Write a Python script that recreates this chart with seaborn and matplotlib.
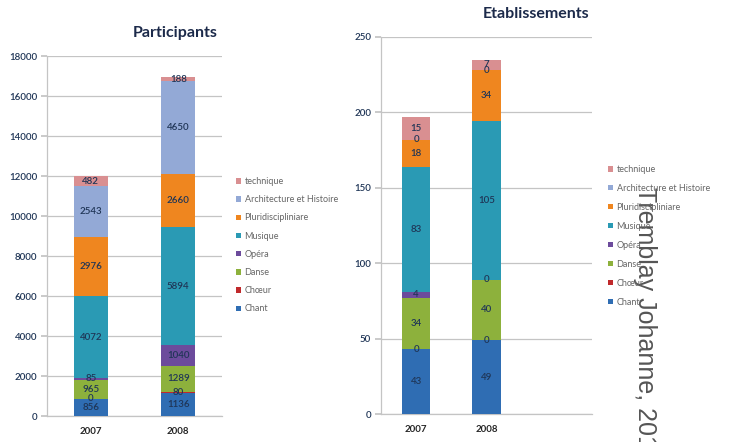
import matplotlib
matplotlib.use("Agg")
import matplotlib.pyplot as plt
from matplotlib.patches import Patch
import seaborn as sns
import numpy as np

sns.set_theme(style="white")
plt.rcParams["font.family"] = ["Lato", "DejaVu Sans"]

years = ["2007", "2008"]
categories = ["Chant", "Chœur", "Danse", "Opéra", "Musique",
              "Pluridisciplinaire", "Architecture et Histoire", "technique"]
legend_labels = ["Chant", "Chœur", "Danse", "Opéra", "Musique",
                 "Pluridisciplinaire", "Architecture et Histoire", "technique"]
legend_labels[5] = "Pluridisciplinare".replace("plinare", "pliniare")

participants = {
    "Chant": [856, 1136],
    "Chœur": [0, 80],
    "Danse": [965, 1289],
    "Opéra": [85, 1040],
    "Musique": [4072, 5894],
    "Pluridisciplinaire": [2976, 2660],
    "Architecture et Histoire": [2543, 4650],
    "technique": [482, 188],
}
etablissements = {
    "Chant": [43, 49],
    "Chœur": [0, 0],
    "Danse": [34, 40],
    "Opéra": [4, 0],
    "Musique": [83, 105],
    "Pluridisciplinaire": [18, 34],
    "Architecture et Histoire": [0, 0],
    "technique": [15, 7],
}
part_ticks = [0, 2000, 4000, 6000, 8000, 10000, 12000, 14000, 16000, 18000]
etab_ticks = [0, 50, 100, 150, 200, 250]

colors = {
    "Chant": "#2f6db3",
    "Chœur": "#c0292b",
    "Danse": "#8db13c",
    "Opéra": "#6c4b9c",
    "Musique": "#2a9ab4",
    "Pluridisciplinaire": "#ef861f",
    "Architecture et Histoire": "#93a9d6",
    "technique": "#d98f91",
}

label_color = "#1f3556"
grid_color = "#c4c4c4"

fig = plt.figure(figsize=(7.29, 4.42), dpi=100)
fig.patch.set_facecolor("white")


def stacked(ax, data, width, nslots, ticks):
    bottom = np.zeros(len(years))
    for cat in categories:
        vals = np.array(data[cat], dtype=float)
        sns.barplot(x=years, y=vals, bottom=bottom, color=colors[cat],
                    width=width, saturation=1, ax=ax, linewidth=0, zorder=3)
        cont = ax.containers[-1]
        ax.bar_label(cont, labels=[f"{int(v)}" for v in vals],
                     label_type="center", fontsize=7, color=label_color,
                     fontweight="semibold", zorder=5)
        bottom += vals
    ax.set_xlim(-0.5, nslots - 0.5)
    ax.set_ylim(ticks[0], ticks[-1])
    ax.set_yticks(ticks)
    ax.set_yticklabels([str(t) for t in ticks], fontsize=7,
                       color=label_color, fontweight="semibold")
    ax.set_xticks(range(len(years)))
    ax.set_xticklabels(years, fontsize=7, color="#262626", fontweight="bold")
    ax.set_xticks(np.arange(-0.5, nslots, 1.0), minor=True)
    ax.tick_params(axis="x", which="major", length=0, pad=8)
    ax.tick_params(axis="x", which="minor", length=4, color=grid_color,
                   direction="out")
    ax.tick_params(axis="y", length=4, color=grid_color, direction="out",
                   left=True, pad=3)
    ax.yaxis.grid(True, color=grid_color, linewidth=0.9, zorder=0)
    ax.set_axisbelow(True)
    for side in ("top", "right"):
        ax.spines[side].set_visible(False)
    for side in ("left", "bottom"):
        ax.spines[side].set_color(grid_color)
        ax.spines[side].set_linewidth(0.9)
    ax.set_xlabel("")
    ax.set_ylabel("")


ax1 = fig.add_axes([47 / 729, 26 / 442, 175 / 729, 360 / 442])
stacked(ax1, participants, 0.39, 2, part_ticks)

ax2 = fig.add_axes([381 / 729, 28 / 442, 211 / 729, 377 / 442])
stacked(ax2, etablissements, 0.40, 3, etab_ticks)

fig.text(175 / 729, 1 - 33 / 442, "Participants", ha="center", va="center",
         fontsize=11.5, fontweight="bold", color="#1c2a4a")
fig.text(536 / 729, 1 - 14 / 442, "Etablissements", ha="center", va="center",
         fontsize=11.5, fontweight="bold", color="#1c2a4a")

handles = [Patch(facecolor=colors[c], edgecolor="none") for c in categories][::-1]
names = legend_labels[::-1]
for (lx, ly), spacing in (((236, 177), 1.02), ((608, 165), 1.1)):
    fig.legend(handles, names, loc="upper left",
               bbox_to_anchor=(lx / 729, 1 - ly / 442),
               frameon=False, fontsize=6.5, labelcolor="#666666",
               handlelength=0.55, handleheight=0.55, handletextpad=0.4,
               labelspacing=spacing, borderaxespad=0, borderpad=0)

fig.text(645 / 729, 1 - 187 / 442, "Tremblay Johanne, 2010",
         rotation=-90, ha="center", va="top", fontsize=18,
         color="#555555", family=["Liberation Sans", "DejaVu Sans"])

fig.savefig("out.png", dpi=100, facecolor="white")
